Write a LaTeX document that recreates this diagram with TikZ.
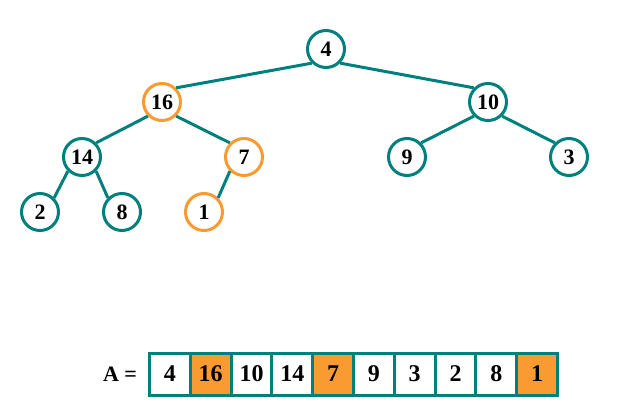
\documentclass[tikz,border=0pt]{standalone}
\usepackage{fontspec}
\setmainfont{Liberation Serif}
\definecolor{teal}{RGB}{0,128,124}
\definecolor{orng}{RGB}{250,155,50}
\begin{document}
\begin{tikzpicture}[x=1pt,y=-1pt,
  tn/.style={circle,draw=teal,line width=3pt,minimum size=37pt,inner sep=0pt,fill=white,font=\fontsize{22}{22}\selectfont\bfseries},
  hn/.style={tn,draw=orng},
  ed/.style={draw=teal,line width=3pt},
  cell/.style={draw=teal,line width=3pt,minimum width=40.8pt,minimum height=42pt,inner sep=0pt,fill=white,font=\fontsize{24}{24}\selectfont\bfseries},
  hcell/.style={cell,fill=orng}]
\useasboundingbox (0,0) rectangle (636,414);
\node[tn] (n4) at (326,49) {4};
\node[hn] (n16) at (162,102) {16};
\node[tn] (n10) at (488,102) {10};
\node[tn] (n14) at (82,157) {14};
\node[hn] (n7) at (244,157) {7};
\node[tn] (n9) at (407,157) {9};
\node[tn] (n3) at (569,157) {3};
\node[tn] (n2) at (40,212) {2};
\node[tn] (n8) at (122,212) {8};
\node[hn] (n1) at (204,212) {1};
\draw[ed] (n4.south west) -- (n16.north east);
\draw[ed] (n4.south east) -- (n10.north west);
\draw[ed] (n16.south west) -- (n14.north east);
\draw[ed] (n16.south east) -- (n7.north west);
\draw[ed] (n10.south west) -- (n9.north east);
\draw[ed] (n10.south east) -- (n3.north west);
\draw[ed] (n14.south west) -- (n2.north east);
\draw[ed] (n14.south east) -- (n8.north west);
\draw[ed] (n7.south west) -- (n1.north east);
\node[font=\fontsize{22}{22}\selectfont\bfseries] (lbl) at (120,374) {A =};
\node[cell]  (c1)  at (169.9,374) {4};
\node[hcell] (c2)  at (210.7,374) {16};
\node[cell]  (c3)  at (251.5,374) {10};
\node[cell]  (c4)  at (292.3,374) {14};
\node[hcell] (c5)  at (333.1,374) {7};
\node[cell]  (c6)  at (373.9,374) {9};
\node[cell]  (c7)  at (414.7,374) {3};
\node[cell]  (c8)  at (455.5,374) {2};
\node[cell]  (c9)  at (496.3,374) {8};
\node[hcell] (c10) at (537.1,374) {1};
\end{tikzpicture}
\end{document}
